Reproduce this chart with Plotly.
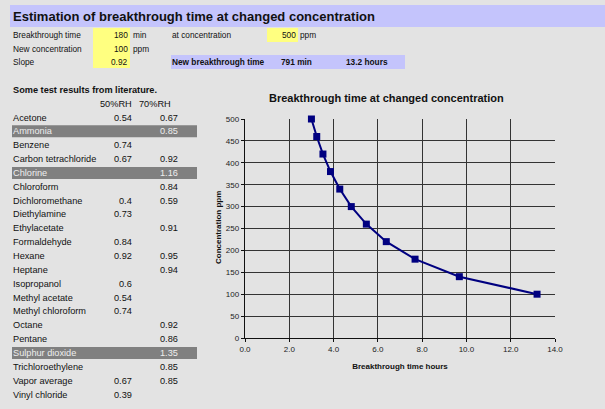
import plotly.graph_objects as go

# ---- chart data: concentration (ppm) vs breakthrough time (hours) ----
conc_ppm = [500, 460, 420, 380, 340, 300, 260, 220, 180, 140, 100]
time_hours = [3.00, 3.24, 3.52, 3.86, 4.28, 4.80, 5.48, 6.38, 7.68, 9.68, 13.19]
x_ticks = [0, 2, 4, 6, 8, 10, 12, 14]

# ---- calculator inputs / outputs ----
bt_min = 180
at_conc = 500
new_conc = 100
slope = 0.92
new_bt_min = 791
new_bt_hours = 13.2

# ---- literature slopes ----
compounds = ["Acetone", "Ammonia", "Benzene", "Carbon tetrachloride", "Chlorine",
             "Chloroform", "Dichloromethane", "Diethylamine", "Ethylacetate",
             "Formaldehyde", "Hexane", "Heptane", "Isopropanol", "Methyl acetate",
             "Methyl chloroform", "Octane", "Pentane", "Sulphur dioxide",
             "Trichloroethylene", "Vapor average", "Vinyl chloride"]
rh50 = ["0.54", "", "0.74", "0.67", "", "", "0.4", "0.73", "", "0.84", "0.92", "",
        "0.6", "0.54", "0.74", "", "", "", "", "0.67", "0.39"]
rh70 = ["0.67", "0.85", "", "0.92", "1.16", "0.84", "0.59", "", "0.91", "", "0.95",
        "0.94", "", "", "", "0.92", "0.86", "1.35", "0.85", "0.85", ""]
highlighted = ["Ammonia", "Chlorine", "Sulphur dioxide"]

W, H = 605, 409
ML, MR, MT, MB = 245, 50, 119, 71
PW, PH = W - ML - MR, H - MT - MB

BG = "#e3e3e3"
LAV = "#c4c4fc"
YEL = "#ffff80"
FONT = "Liberation Sans, Arial"


def fx(px):
    return (px - ML) / PW


def fy(py):
    return (H - MB - py) / PH


shapes = []
annots = []


def rect(x0, y0, x1, y1, color):
    shapes.append(dict(type="rect", xref="paper", yref="paper", x0=fx(x0), x1=fx(x1),
                       y0=fy(y1), y1=fy(y0), fillcolor=color, line=dict(width=0),
                       layer="below"))


def text(s, x, y, anchor="left", size=8.3, bold=False, color="#111111", angle=0):
    if bold:
        s = "<b>" + s + "</b>"
    annots.append(dict(text=s, xref="paper", yref="paper", x=fx(x), y=fy(y),
                       xanchor=anchor, yanchor="middle", showarrow=False, textangle=angle,
                       font=dict(family=FONT, size=size, color=color)))


# title band
rect(10, 5, W + 5, 27, LAV)
text("Estimation of breakthrough time at changed concentration", 11, 16, size=13, bold=True)

# input cells
rect(93, 28, 130, 68, YEL)
rect(267, 28, 298, 42, YEL)
rect(171, 55, 405, 69, LAV)
rows_top = [35, 48.5, 62]
text("Breakthrough time", 11, rows_top[0])
text(f"{bt_min}", 130, rows_top[0], anchor="right")
text("min", 131, rows_top[0])
text("at concentration", 170, rows_top[0])
text(f"{at_conc}", 298, rows_top[0], anchor="right")
text("ppm", 298, rows_top[0])
text("New concentration", 11, rows_top[1])
text(f"{new_conc}", 130, rows_top[1], anchor="right")
text("ppm", 131, rows_top[1])
text("Slope", 11, rows_top[2])
text(f"{slope}", 130, rows_top[2], anchor="right")
text("New breakthrough time", 170, rows_top[2], bold=True)
text(f"{new_bt_min} min", 279, rows_top[2], bold=True)
text(f"{new_bt_hours} hours", 344, rows_top[2], bold=True)

# literature table
TS = 9.2
text("Some test results from literature.", 11, 90, size=TS, bold=True)
text("50%RH", 134, 104, anchor="right", size=TS)
text("70%RH", 173, 104, anchor="right", size=TS)
pitch = 13.85
for i, name in enumerate(compounds):
    y = 117.5 + pitch * i
    col = "#111111"
    if name in highlighted:
        rect(12, y - 6, 197, y + 6, "#808080")
        col = "#eeeeee"
    text(name, 11, y, size=TS, color=col)
    if rh50[i]:
        text(rh50[i], 134, y, anchor="right", size=TS, color=col)
    if rh70[i]:
        text(rh70[i], 180, y, anchor="right", size=TS, color=col)

# chart title and y-axis title
text("Breakthrough time at changed concentration", 386, 98, anchor="center",
     size=11, bold=True)
text("Concentration ppm", 218, 228, anchor="center", size=8, bold=True, angle=-90)

fig = go.Figure()
fig.add_trace(go.Scatter(x=time_hours, y=conc_ppm, mode="lines+markers",
                         line=dict(color="#000080", width=2),
                         marker=dict(symbol="square", size=7, color="#000080"),
                         cliponaxis=False, showlegend=False))

axis_common = dict(showgrid=True, gridcolor="#333333", gridwidth=1.4, zeroline=False,
                   showline=True, linecolor="#111111", linewidth=1.4,
                   ticks="outside", ticklen=3, tickcolor="#111111",
                   tickfont=dict(family=FONT, size=8, color="#222222"))

fig.update_xaxes(range=[0, 14], tickvals=x_ticks, tickformat=".1f",
                 title=dict(text="<b>Breakthrough time hours</b>", standoff=10,
                            font=dict(family=FONT, size=8, color="#111111")),
                 **axis_common)
fig.update_yaxes(range=[0, 500], dtick=50, **axis_common)

fig.update_layout(width=W, height=H, margin=dict(l=ML, r=MR, t=MT, b=MB),
                  paper_bgcolor=BG, plot_bgcolor=BG, shapes=shapes, annotations=annots,
                  font=dict(family=FONT))

fig.write_html("out.html")
